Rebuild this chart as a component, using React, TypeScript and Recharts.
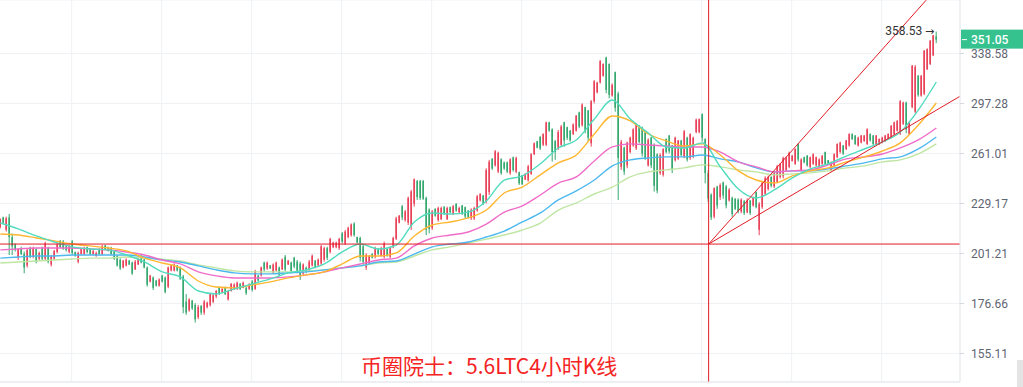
import React from "react";
import {
  ComposedChart,
  Bar,
  Line,
  XAxis,
  YAxis,
  CartesianGrid,
  ReferenceLine,
  ReferenceDot,
} from "recharts";

// 4h candles, [open, high, low, close]
const ohlc: [number, number, number, number][] = [
  [215.5, 220.5, 214.8, 220], [221, 221.4, 217.6, 218], [214, 221.4, 213, 220.5], [221, 223, 200.4, 210], [210, 212, 200.4, 205],
  [206, 206.6, 202.2, 203], [199, 204, 197.8, 203.5], [204, 204.8, 200.4, 201], [201, 202.2, 191.1, 194], [195, 204, 194, 203],
  [204, 204.8, 198.7, 199.5], [199.5, 204.8, 198.7, 204], [203.5, 204, 196.1, 197], [198.5, 202.2, 197.8, 201.5], [204, 204.8, 197.8, 198.5],
  [198.5, 207.5, 197.8, 206.5], [204, 204.8, 196.1, 197], [195.5, 200.4, 194.5, 199.5], [198.5, 203.1, 197.8, 202.5], [202, 206.6, 201.3, 206],
  [208, 208.4, 204, 204.5], [207.5, 208.4, 203.1, 204], [205, 205.7, 202.2, 203], [202, 205.7, 201.3, 205], [207.5, 208.4, 200.4, 201.5],
  [202, 202.2, 199.5, 200], [197, 202.2, 196.1, 201.5], [201, 204, 200.4, 203.5], [201, 204.8, 200.4, 204], [204.5, 204.8, 201.3, 202],
  [203.5, 204, 200.4, 201], [201, 203.1, 200.4, 202.5], [200, 202.2, 199.5, 201.5], [203.5, 204, 200.4, 201], [201, 205.7, 200.4, 205],
  [205.5, 205.7, 203.1, 203.5], [204.5, 204.8, 202.2, 202.5], [204, 204.8, 200.4, 201], [202.5, 203.1, 197.8, 198.5], [200, 200.4, 194.5, 195],
  [198, 198.7, 192.8, 193.5], [194, 197.8, 193.6, 197.5], [195, 198.7, 194.5, 198], [197.5, 197.8, 195.3, 195.5], [196.5, 197, 190.3, 191],
  [193, 197.8, 192.8, 197], [195.5, 198.7, 195.3, 198.5], [200, 200.4, 196.1, 196.5], [198, 198.7, 193.6, 194], [194, 194.5, 184.6, 185.5],
  [187, 190.3, 186.6, 190], [189, 189.5, 183, 184], [187.5, 187.8, 184.6, 185], [185, 188.6, 184.6, 188], [190, 190.3, 186.6, 187],
  [189, 189.5, 181.4, 182], [184.5, 194.5, 183.8, 194], [192.5, 195.3, 192, 195], [192.5, 196.1, 192, 195.5], [195, 195.3, 192, 192.5],
  [194, 194.5, 187.8, 188.5], [189.5, 190.3, 172.2, 175], [177.5, 181, 171.5, 172.5], [173.5, 179.1, 172.9, 178.5], [178, 178.3, 173.7, 174.5],
  [176, 176.8, 168.1, 169.5], [170.5, 176, 169.6, 175], [175.5, 176, 171.5, 172.5], [172.5, 178.3, 171.5, 177.5], [175, 177.5, 174.4, 177],
  [176, 181.4, 175.2, 181], [177.5, 181.4, 176.8, 180.5], [180, 183, 179.1, 182.5], [184, 184.6, 180.6, 181.5], [182, 183.8, 181.4, 183.5],
  [184, 184.6, 180.6, 181], [178.5, 183, 178, 182.5], [182.5, 186.2, 182.2, 186], [183.5, 186.2, 183, 185.5], [183.5, 187, 183, 186.5],
  [186, 186.2, 183, 183.5], [184, 187, 183.8, 186.5], [184, 184.6, 180.6, 181.5], [183.5, 186.2, 183, 185.5], [187, 187.8, 182.2, 183],
  [183.5, 192.8, 183, 192], [190, 190.3, 187, 187.5], [190, 194.5, 189.5, 194], [196.5, 197, 192, 193], [193.5, 197, 192.8, 196.5],
  [195, 195.3, 193.3, 193.5], [191.5, 196.1, 191.1, 195.5], [192.5, 197, 192, 196.5], [194, 194.5, 189.5, 190.5], [193, 198.6, 192.8, 198],
  [199.5, 200.4, 192, 193], [195.5, 197.8, 195.3, 197.5], [196.5, 197, 191.1, 192], [199, 199.5, 193.6, 194.5], [197, 197.8, 191.1, 192],
  [196, 197, 187.8, 190], [191, 196.1, 190.3, 195.5], [194, 194.5, 191.1, 192], [192.5, 197.8, 192, 197], [195, 200.7, 194.5, 200],
  [197.5, 197.8, 193.6, 194], [195, 198.6, 194.5, 198], [196, 205.7, 195.3, 205], [198, 204.8, 197, 204], [204, 204.8, 197.8, 199],
  [202, 209.6, 201.3, 209], [204.5, 207.5, 204, 207], [204.5, 207.5, 204, 207], [204, 209.6, 203.1, 209], [212, 212.8, 206.6, 207.5],
  [206.5, 213.9, 205.7, 213], [210, 215.8, 209.3, 215], [211, 217.6, 210.2, 217], [217.5, 218.2, 210.2, 211], [210, 210.2, 206.6, 207],
  [209.5, 210.2, 197, 199], [205, 205.7, 195.3, 197], [194, 201.3, 192.8, 200.5], [196, 200.4, 195.3, 200], [201, 201.3, 198.6, 199],
  [199.5, 204.8, 198.6, 204], [203.5, 204, 200.4, 201], [200, 204.8, 199.5, 204], [199.5, 207.5, 198.6, 206.5], [203.5, 204, 199.5, 200],
  [199.5, 204.8, 198.6, 204], [204.5, 210.2, 204, 209.5], [209, 221.4, 208.4, 220.5], [218, 222.4, 217.6, 222], [227.5, 228.3, 219.5, 221],
  [219.5, 225.3, 218.6, 224.5], [218, 233.3, 216.7, 232.5], [216, 237.4, 213.9, 236.5], [229, 244.6, 227.3, 244], [243, 243.6, 231.3, 233],
  [243, 243.6, 231.3, 232.5], [243, 243.6, 231.3, 232], [232.5, 233.3, 211.1, 214], [225.5, 226.3, 212, 214.5], [215, 225.3, 213.9, 224.5],
  [226, 226.3, 221.4, 222], [219.5, 227.3, 218.6, 226.5], [220, 227.3, 219.5, 226.5], [227, 227.7, 222.4, 223], [220, 227.3, 219.5, 226.5],
  [227, 227.3, 223.4, 224], [223, 228.3, 222.4, 227.5], [229, 229.3, 224.3, 225], [224, 227.3, 223.4, 226.5], [228, 228.3, 222.4, 223],
  [227, 227.3, 220.4, 221.5], [225, 225.3, 220.4, 221], [220.5, 226.3, 219.5, 225.5], [220.5, 227.3, 219.5, 226.5], [225, 234.3, 224.3, 233.5],
  [231, 235.3, 230.3, 235], [234, 234.3, 228.3, 229], [230, 251.2, 229.3, 250], [236, 256.7, 234.3, 255.5], [257.5, 257.8, 250.1, 251],
  [253, 263.4, 252.3, 262.5], [249, 262.3, 248, 261.5], [257, 257.8, 246.9, 248], [255, 255.6, 250.1, 251], [255, 255.6, 248, 249],
  [248, 257.8, 246.9, 257], [258.5, 258.9, 249, 250], [249, 258.9, 248, 258], [248.5, 249, 240.5, 241.5], [246.5, 246.9, 240.5, 241],
  [244, 248, 243.6, 247.5], [243.5, 253.4, 242.6, 252.5], [247.5, 261.2, 246.9, 260.5], [260.5, 268.6, 260, 268], [269.5, 269.7, 264.6, 265],
  [272.5, 273.1, 263.4, 264.5], [267, 275.1, 266.1, 274.5], [267, 283.5, 266.1, 283], [283, 283.5, 276.3, 277], [278, 278.7, 255.6, 262],
  [269.5, 270.4, 256.7, 262], [265, 277.5, 263.4, 276], [267, 281.1, 265.7, 280], [283, 283.5, 265.7, 270], [279.5, 279.9, 270.4, 272],
  [277, 277.5, 269.2, 270], [274.5, 282.3, 273.9, 281.5], [277, 288.5, 276.3, 288], [290.5, 291, 278.7, 280], [281, 297.4, 279.9, 296.5],
  [294.5, 294.8, 275.1, 277], [292, 292.3, 269.2, 272], [268, 300, 265.7, 299], [299, 316, 297.4, 315], [306, 314.6, 305.3, 314],
  [314, 332.9, 313.2, 332], [319.5, 330, 318.8, 329.5], [335, 335.8, 305.3, 308], [329.5, 330, 301.3, 304], [303.5, 313.2, 302.6, 312],
  [322.5, 323, 291, 294], [305, 306.6, 231.3, 258], [252, 270.4, 250.1, 269], [265, 265.7, 246.9, 249], [253, 269.2, 251.2, 268.5],
  [262, 272.7, 261.1, 272], [266.5, 278.7, 265.7, 278], [264.5, 282.3, 263.4, 281.5], [280.5, 281.1, 268, 269], [279, 279.9, 258.9, 261],
  [276, 276.3, 256.7, 258], [253, 271.5, 252.3, 270.5], [272, 272.7, 251.2, 253], [267, 268, 236.4, 240], [260.5, 261.1, 235.3, 237],
  [248, 261.1, 246.9, 260], [247, 264.6, 245.8, 264], [271, 271.5, 261.1, 262], [273.5, 273.9, 261.1, 262.5], [266.5, 266.9, 248, 250],
  [256.5, 272.7, 255.6, 272], [257.5, 270.4, 256.7, 270], [270, 270.4, 258.9, 260], [259, 277.5, 257.8, 276.5], [272, 272.7, 255.6, 257],
  [258, 275.1, 256.7, 274.5], [259, 272.7, 257.8, 272], [276, 285.9, 275.1, 285], [276, 285.9, 275.1, 285.5], [289, 289.7, 269.2, 272],
  [271, 271.5, 241.5, 248], [248, 250, 230, 232], [234.5, 235.3, 219.5, 221], [221.5, 239, 220.4, 238.5], [239.5, 240, 226, 228],
  [233, 241.5, 231.3, 240.5], [242, 242.6, 232, 234], [239.5, 240.5, 226.3, 228], [231, 238.5, 230.3, 237.5], [232.5, 233.3, 221.4, 223],
  [232, 232.3, 225.3, 226], [231.5, 232.3, 223.4, 224.5], [224.5, 232.3, 223.4, 231.5], [230.5, 231.3, 222.4, 223.5], [224, 232.3, 223.4, 231],
  [231, 231.3, 222.4, 223.5], [228, 233.3, 227.3, 232.5], [236, 236.4, 226.3, 227], [214, 230, 211, 229], [227, 243, 226, 242],
  [235, 246, 234, 245], [238, 246.5, 237, 245.5], [245.5, 246, 239, 240], [239.5, 249, 238.5, 248], [242.5, 253.4, 241.6, 252.5],
  [245.5, 254.5, 244.6, 254], [246, 258.9, 244.6, 258], [250, 258.9, 249, 258], [252, 262.3, 251.2, 261.5], [256, 260, 255.6, 259.5],
  [254, 264.6, 253.4, 264], [267.5, 268, 255.6, 257], [250, 257.8, 249, 257], [258.5, 258.9, 254.5, 255], [259.5, 260, 252.3, 253],
  [252, 258.9, 251.2, 258.5], [254, 261.1, 253.4, 260.5], [253, 258.9, 252.3, 258.5], [252, 257.8, 251.2, 257], [254, 260, 253.4, 259.5],
  [262, 262.3, 253.4, 254], [256.5, 256.7, 253.4, 254], [250, 255.6, 249, 255], [253, 261.1, 252.3, 260.5], [258.5, 268, 257.8, 267.5],
  [262, 269.2, 261.1, 268.5], [266.5, 266.9, 260, 261], [264, 270.4, 263.4, 270], [266.5, 275.1, 265.7, 274.5], [274.5, 275.1, 270.4, 271],
  [273.5, 273.9, 266.9, 267.5], [266.5, 272.7, 265.7, 272], [268.5, 273.9, 268, 273.5], [269.5, 273.9, 269.2, 273.5], [267.5, 278.7, 266.9, 278],
  [274.5, 275.1, 269.2, 270], [273.5, 273.9, 266.9, 267.5], [267.5, 273.9, 266.9, 273.5], [267.5, 271.5, 266.9, 271], [268.5, 272.7, 268, 272],
  [269.5, 273.9, 269.2, 273.5], [271, 275.1, 270.4, 274.5], [272, 281.1, 271.5, 280.5], [274.5, 283.5, 273.9, 283], [277, 284.8, 276.3, 284],
  [275, 300, 273.9, 299], [282, 298.7, 281.1, 298], [298, 298.7, 275.1, 278], [274.5, 283.5, 273.9, 283], [294.5, 328.6, 293.6, 328],
  [291, 328.6, 289.8, 327], [319.5, 320.2, 302.6, 304], [303.5, 320.2, 302.6, 319.5], [305, 341.7, 303.9, 341], [325, 343.2, 324.4, 342.5],
  [329.5, 350.7, 328.6, 350], [337, 355.4, 336.3, 355], [354, 358.53, 347.8, 351.05],
];

// moving averages read every 6th candle
const MA_STEP = 6;
const maCyan = [
  217.8, 214.5, 210.6, 207.3, 204.7, 203.6, 203.1, 200.4, 196.8, 191.8,
  189.3, 182.5, 181.1, 183.5, 185.9, 188.3, 191.3, 192.8, 195.8, 202.0,
  206.2, 203.6, 205.7, 218.4, 223.6, 223.0, 224.1, 230.7, 243.6, 246.2,
  254.1, 264.8, 270.4, 285.5, 300.0, 285.5, 275.3, 265.5, 264.8, 268.3,
  252.1, 238.0, 232.5, 237.4, 244.9, 250.8, 254.1, 259.3, 264.1, 269.0,
  276.0, 292.3, 314.4,
];
const maOrange = [
  211.7, 211.1, 209.5, 207.9, 206.2, 205.2, 204.1, 202.6, 198.8, 196.3,
  193.8, 187.3, 184.4, 184.0, 185.4, 186.9, 188.8, 190.3, 191.8, 195.8,
  199.9, 199.9, 201.5, 210.6, 216.7, 218.4, 220.7, 225.3, 235.5, 239.2,
  246.9, 254.7, 260.0, 274.6, 287.8, 284.1, 274.6, 269.7, 266.2, 267.6,
  260.0, 249.5, 243.6, 241.7, 246.2, 249.5, 251.4, 255.4, 258.7, 262.7,
  268.3, 281.1, 297.7,
];
const maPink = [
  203.1, 203.6, 204.1, 204.1, 204.1, 203.6, 203.1, 202.0, 200.4, 197.8,
  195.8, 191.8, 189.8, 188.8, 188.8, 188.8, 189.3, 190.3, 191.8, 193.8,
  195.8, 197.8, 198.8, 205.2, 209.5, 211.1, 212.8, 217.2, 224.1, 227.7,
  234.3, 241.7, 245.6, 256.0, 265.5, 267.6, 266.9, 266.2, 265.5, 265.5,
  262.0, 255.4, 252.1, 248.8, 249.5, 250.1, 253.4, 257.4, 258.7, 260.7,
  264.8, 270.4, 278.9,
];
const maBlue = [
  198.8, 199.4, 199.9, 199.9, 200.4, 200.4, 200.4, 200.4, 199.4, 197.8,
  196.8, 194.8, 192.8, 191.3, 190.8, 190.8, 191.3, 191.8, 192.8, 193.8,
  194.8, 196.8, 197.3, 200.9, 204.7, 206.2, 207.3, 210.0, 213.3, 218.4,
  223.6, 231.3, 236.8, 243.6, 252.7, 256.7, 258.0, 258.7, 258.7, 260.0,
  257.4, 255.4, 251.4, 248.8, 249.5, 249.5, 250.8, 252.7, 254.7, 257.4,
  258.7, 264.1, 272.5,
];
const maGreen = [
  196.3, 196.8, 197.3, 197.8, 198.3, 198.8, 198.8, 199.4, 198.8, 198.3,
  197.3, 195.3, 193.8, 192.3, 191.8, 191.8, 191.8, 192.3, 192.8, 193.8,
  194.8, 196.3, 196.8, 199.9, 203.1, 204.7, 206.8, 208.9, 211.1, 213.9,
  217.8, 225.3, 229.5, 234.9, 239.2, 245.6, 248.8, 250.1, 251.4, 253.4,
  252.1, 250.1, 248.8, 246.9, 247.5, 248.2, 249.5, 251.4, 252.7, 255.4,
  256.7, 260.7, 267.6,
];

const priceTicks = [155.11, 176.66, 201.21, 229.17, 261.01, 297.28, 338.58];

// hand drawn lines on the chart (candle index, price)
const pivot = { k: 236.1, price: 206.2 };
const steepEnd = { k: 308.6, price: 389 };
const flatEnd = { k: 319.8, price: 302.8 };

const UP = "#e9435a";
const DOWN = "#35a86f";
const DRAW_RED = "#e21b25";

const maSeries = [
  { key: "maGreen", values: maGreen, color: "#bfe6a3" },
  { key: "maBlue", values: maBlue, color: "#4cb8ee" },
  { key: "maPink", values: maPink, color: "#f06cc9" },
  { key: "maOrange", values: maOrange, color: "#ffb732" },
  { key: "maCyan", values: maCyan, color: "#52dbbf" },
];

const rows = ohlc.map(([o, h, l, c], k) => {
  const r: any = { k, o, h, l, c };
  if (k % MA_STEP === 0) {
    maSeries.forEach((s) => {
      r[s.key] = s.values[k / MA_STEP];
    });
  }
  return r;
});

const last = ohlc[ohlc.length - 1];
let maxIdx = 0;
ohlc.forEach((d, i) => {
  if (d[1] > ohlc[maxIdx][1]) maxIdx = i;
});

const Candle = (props: any) => {
  const { x, y, width, height, payload } = props;
  if (!payload || height == null) return null;
  const { o, h, l, c } = payload;
  const cx = x + width / 2;
  const span = Math.log(h) - Math.log(l);
  const py = (v: number) =>
    span > 0 ? y + (height * (Math.log(h) - Math.log(v))) / span : y;
  const color = c >= o ? UP : DOWN;
  const top = py(Math.max(o, c));
  const bot = py(Math.min(o, c));
  return (
    <g>
      <rect x={cx - 0.5} y={y} width={1} height={Math.max(height, 1)} fill={color} />
      <rect x={cx - 0.8} y={top} width={1.6} height={Math.max(bot - top, 1)} fill={color} />
    </g>
  );
};

const PriceTag = (props: any) => {
  const vb = props.viewBox;
  if (!vb) return null;
  const x0 = vb.x + vb.width;
  const yy = vb.y;
  return (
    <g>
      <rect x={x0 + 1} y={yy - 10} width={62} height={19} fill="#36c28e" />
      <line x1={x0 + 2} x2={x0 + 7} y1={yy} y2={yy} stroke="#ffffff" />
      <text
        x={x0 + 11}
        y={yy + 4}
        fill="#ffffff"
        fontSize={12}
        fontWeight={500}
        fontFamily="Roboto, Arial, sans-serif"
      >
        {last[3].toFixed(2)}
      </text>
    </g>
  );
};

const MaxMark = (props: any) => {
  const { cx, cy } = props;
  if (cx == null) return null;
  return (
    <text
      x={cx - 2}
      y={cy + 3}
      textAnchor="end"
      fill="#333"
      fontSize={12}
      fontFamily="Roboto, Arial, sans-serif"
    >
      {ohlc[maxIdx][1].toFixed(2) + " "}
      <tspan fontFamily="'DejaVu Sans', sans-serif" fontSize={11}>
        {"\u2192"}
      </tspan>
    </text>
  );
};

export default function App() {
  return (
    <div style={{ position: "absolute", left: 0, top: 0, width: 1023, height: 387, background: "#fff" }}>
      <ComposedChart
        width={1023}
        height={387}
        data={rows}
        margin={{ top: 0, right: 0, bottom: 0, left: 0 }}
      >
        <CartesianGrid
          stroke="#eff1f4"
          verticalPoints={[71.7, 161.7, 251.7, 341.7, 431.7, 521.7, 611.7, 701.7, 791.7, 881.7]}
        />
        <XAxis
          dataKey="k"
          type="number"
          domain={[-0.11, 319.89]}
          allowDataOverflow
          tick={false}
          tickLine={false}
          height={5}
          axisLine={{ stroke: "#e4e6eb" }}
        />
        <YAxis
          orientation="right"
          scale="log"
          domain={[144, 389.2]}
          allowDataOverflow
          ticks={priceTicks}
          interval={0}
          width={63}
          tickSize={4}
          tickMargin={7}
          axisLine={{ stroke: "#e0e3ea" }}
          tickLine={{ stroke: "#d3d7de" }}
          tick={{ fill: "#5f6673", fontSize: 12, fontFamily: "Roboto, Arial, sans-serif" }}
          tickFormatter={(v: number) => v.toFixed(2)}
        />
        <Bar
          dataKey={(d: any) => [d.l, d.h]}
          barSize={3}
          shape={<Candle />}
          isAnimationActive={false}
        />
        {maSeries.map((s) => (
          <Line
            key={s.key}
            dataKey={s.key}
            type="monotone"
            stroke={s.color}
            strokeWidth={1.4}
            dot={false}
            activeDot={false}
            connectNulls
            isAnimationActive={false}
          />
        ))}
        <ReferenceLine y={pivot.price} stroke={DRAW_RED} strokeWidth={1} />
        <ReferenceLine x={pivot.k} stroke={DRAW_RED} strokeWidth={1} />
        <ReferenceLine
          segment={[{ x: pivot.k, y: pivot.price }, { x: steepEnd.k, y: steepEnd.price }]}
          stroke={DRAW_RED}
          strokeWidth={1}
          ifOverflow="visible"
        />
        <ReferenceLine
          segment={[{ x: pivot.k, y: pivot.price }, { x: flatEnd.k, y: flatEnd.price }]}
          stroke={DRAW_RED}
          strokeWidth={1}
          ifOverflow="visible"
        />
        <ReferenceLine y={last[3]} stroke="none" label={<PriceTag />} />
        <ReferenceDot x={maxIdx} y={ohlc[maxIdx][1]} r={0} shape={<MaxMark />} />
      </ComposedChart>
      <div
        style={{
          position: "absolute",
          left: 361,
          top: 352,
          fontSize: 21,
          lineHeight: "26px",
          color: "#f52323",
          fontFamily: "'Noto Sans CJK SC', sans-serif",
          whiteSpace: "nowrap",
        }}
      >
        币圈院士：5.6LTC4小时K线
      </div>
      <div
        style={{
          position: "absolute",
          left: 1017,
          top: 360,
          width: 6,
          height: 27,
          background: "#e4e4e4",
        }}
      />
    </div>
  );
}
